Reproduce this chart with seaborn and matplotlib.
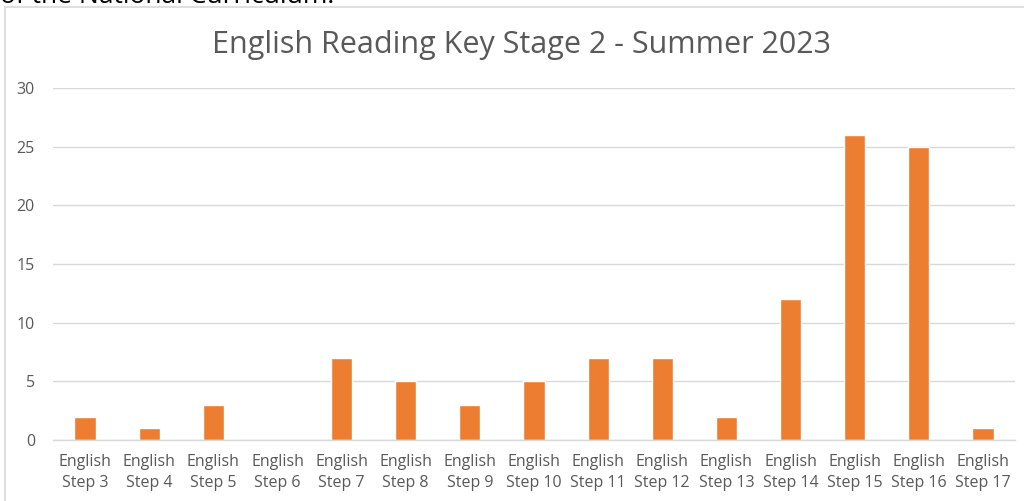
import matplotlib
matplotlib.use("Agg")
import matplotlib.pyplot as plt
import seaborn as sns
import pandas as pd
from matplotlib.patches import Rectangle

categories = ["English\nStep 3", "English\nStep 4", "English\nStep 5", "English\nStep 6",
              "English\nStep 7", "English\nStep 8", "English\nStep 9", "English\nStep 10",
              "English\nStep 11", "English\nStep 12", "English\nStep 13", "English\nStep 14",
              "English\nStep 15", "English\nStep 16", "English\nStep 17"]
values = [2, 1, 3, 0, 7, 5, 3, 5, 7, 7, 2, 12, 26, 25, 1]
yticks = [0, 5, 10, 15, 20, 25, 30]
title = "English Reading Key Stage 2 - Summer 2023"

sns.set_theme(style="white")
plt.rcParams['font.family'] = ['Open Sans', 'DejaVu Sans']

W, H = 1024, 501
fig = plt.figure(figsize=(W / 100, H / 100), dpi=100)
ax = fig.add_axes([53 / W, (H - 440) / H, (1015 - 53) / W, (440 - 88) / H])

df = pd.DataFrame({"cat": categories, "val": values})
sns.barplot(data=df, x="cat", y="val", color="#ED7D31", saturation=1, width=0.33, ax=ax)

ax.set_ylim(0, 30)
ax.set_yticks(yticks)
ax.set_xlim(-0.5, len(categories) - 0.5)
ax.yaxis.grid(True, color="#d9d9d9", linewidth=1)
ax.set_axisbelow(True)
for s in ["top", "right", "left"]:
    ax.spines[s].set_visible(False)
ax.spines["bottom"].set_color("#d9d9d9")
ax.spines["bottom"].set_linewidth(1)
ax.tick_params(axis="both", length=0, labelsize=11.5, labelcolor="#595959")
ax.tick_params(axis="y", pad=13)
ax.tick_params(axis="x", pad=10)
for lbl in ax.get_xticklabels():
    lbl.set_linespacing(1.45)
ax.set_xlabel("")
ax.set_ylabel("")

fig.text(521 / W, (H - 45) / H, title, ha="center", va="center", fontsize=22, color="#595959")

# chart border
fig.patches.append(Rectangle((5 / W, -0.1), 1.2, (H - 7) / H + 0.1, transform=fig.transFigure,
                             fill=False, edgecolor="#d9d9d9", linewidth=1.2, clip_on=False))
# cut-off text above
fig.text(0 / W, (H - 3) / H, "of the National Curriculum.", ha="left", va="baseline",
         fontsize=19, color="black")

fig.savefig("out.png", dpi=100)
